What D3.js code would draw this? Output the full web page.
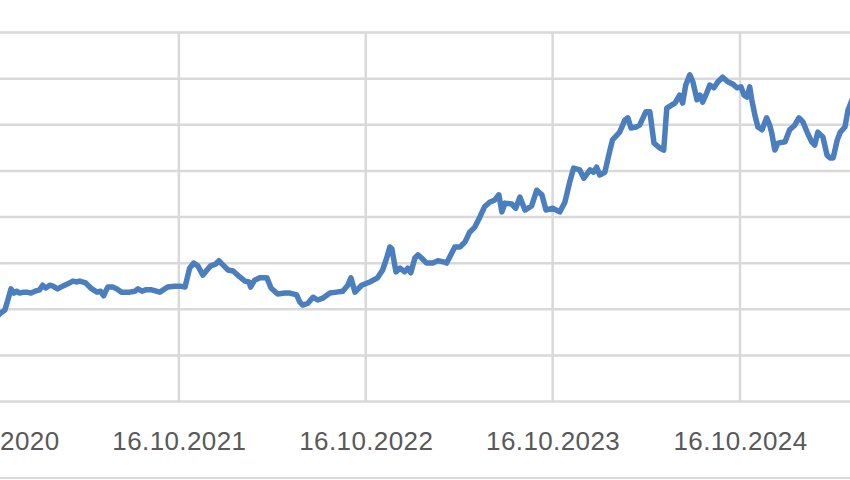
<!DOCTYPE html>
<html>
<head>
<meta charset="utf-8">
<script src="https://cdn.jsdelivr.net/npm/d3@7"></script>
<style>
  body { margin: 0; background: #fff; }
  svg { display: block; }
  .xaxis text { font-family: "Liberation Sans", Arial, sans-serif; font-size: 26px; fill: #595959; }
</style>
</head>
<body>
<div id="chart"></div>
<script>
const dates = [
  "2020-10-24","2020-10-31","2020-11-10","2020-11-16","2020-11-22","2020-11-28","2020-12-03","2020-12-09","2020-12-17","2020-12-23",
  "2020-12-31","2021-01-08","2021-01-17","2021-01-23","2021-01-29","2021-02-06","2021-02-12","2021-02-21","2021-03-03","2021-03-13",
  "2021-03-23","2021-03-31","2021-04-05","2021-04-17","2021-04-29","2021-05-09","2021-05-16","2021-05-22","2021-05-30","2021-06-09",
  "2021-06-17","2021-06-26","2021-07-12","2021-07-22","2021-07-28","2021-08-05","2021-08-12","2021-08-24","2021-09-09","2021-09-24",
  "2021-10-08","2021-10-18","2021-10-28","2021-11-06","2021-11-14","2021-11-22","2021-12-02","2021-12-10","2021-12-17","2021-12-27",
  "2022-01-02","2022-01-10","2022-01-20","2022-01-30","2022-02-12","2022-02-22","2022-03-02","2022-03-05","2022-03-13","2022-03-23",
  "2022-04-06","2022-04-14","2022-04-27","2022-05-11","2022-05-21","2022-06-03","2022-06-09","2022-06-15","2022-06-25","2022-07-05",
  "2022-07-14","2022-07-24","2022-08-07","2022-08-20","2022-09-01","2022-09-11","2022-09-17","2022-09-25","2022-10-08","2022-10-24",
  "2022-11-08","2022-11-18","2022-11-26","2022-12-02","2022-12-06","2022-12-14","2022-12-22","2022-12-31","2023-01-06","2023-01-12",
  "2023-01-20","2023-01-26","2023-02-02","2023-02-12","2023-02-24","2023-03-06","2023-03-19","2023-03-23","2023-04-02","2023-04-08",
  "2023-04-18","2023-04-28","2023-05-07","2023-05-17","2023-05-27","2023-06-05","2023-06-15","2023-06-25","2023-07-03","2023-07-09",
  "2023-07-15","2023-07-28","2023-08-05","2023-08-13","2023-08-23","2023-09-05","2023-09-15","2023-09-25","2023-10-03","2023-10-16",
  "2023-10-30","2023-11-09","2023-11-18","2023-11-26","2023-12-08","2023-12-16","2023-12-28","2024-01-04","2024-01-10","2024-01-16",
  "2024-01-26","2024-02-05","2024-02-10","2024-02-24","2024-03-05","2024-03-11","2024-03-17","2024-03-27","2024-04-03","2024-04-15",
  "2024-04-23","2024-05-01","2024-05-12","2024-05-20","2024-05-26","2024-06-05","2024-06-11","2024-06-20","2024-06-26","2024-07-02",
  "2024-07-10","2024-07-16","2024-07-24","2024-07-30","2024-08-04","2024-08-12","2024-08-18","2024-08-26","2024-09-03","2024-09-12",
  "2024-09-22","2024-10-02","2024-10-10","2024-10-18","2024-10-24","2024-10-30","2024-11-04","2024-11-08","2024-11-14","2024-11-20",
  "2024-11-28","2024-12-07","2024-12-13","2024-12-17","2024-12-23","2024-12-29","2025-01-12","2025-01-21","2025-01-31","2025-02-08",
  "2025-02-16","2025-02-24","2025-03-05","2025-03-11","2025-03-17","2025-03-27","2025-04-04","2025-04-10","2025-04-16","2025-04-24",
  "2025-04-30","2025-05-09","2025-05-15","2025-05-23","2025-05-31"
];
const prices = [
  18.0,18.9,19.7,21.9,24.3,23.4,23.8,23.4,23.6,23.6,
  23.4,23.8,24.1,25.1,24.5,25.1,24.9,24.3,24.9,25.4,
  26.0,25.8,26.0,25.6,24.3,23.6,23.8,22.8,24.7,24.7,
  24.3,23.6,23.6,23.8,24.3,23.8,24.1,24.1,23.6,24.7,
  24.9,24.9,24.7,28.8,29.9,29.3,27.3,28.4,29.3,29.7,
  30.4,29.5,28.4,28.2,26.9,26.0,25.8,24.7,26.2,26.7,
  26.7,24.5,23.2,23.4,23.4,23.0,21.5,20.8,21.2,22.5,
  21.9,22.3,23.4,23.6,23.8,25.1,26.7,23.6,25.1,25.8,
  26.7,28.4,31.0,33.4,33.0,28.0,28.8,28.0,28.8,27.8,
  31.0,31.7,31.0,29.9,29.9,30.4,30.1,29.9,32.1,33.4,
  33.4,34.5,36.6,37.7,39.9,42.1,43.1,43.6,44.7,41.0,
  42.9,42.7,41.8,44.2,41.4,42.3,45.7,44.7,41.4,41.8,
  41.0,43.1,47.3,50.5,50.1,48.3,50.1,49.6,50.7,49.0,
  49.6,54.4,56.6,58.3,60.9,61.4,59.2,59.4,59.8,62.7,
  62.7,55.9,54.9,54.4,63.5,64.2,64.6,66.3,64.6,68.5,
  70.7,69.2,65.3,66.3,64.8,66.8,68.5,67.9,69.2,70.2,
  69.2,68.7,67.9,68.1,66.3,65.9,68.1,65.3,62.0,59.4,
  58.8,61.4,59.8,58.1,54.4,55.9,56.2,58.8,59.8,61.4,
  60.5,58.3,56.2,55.5,58.3,57.2,53.3,52.7,52.7,56.6,
  58.3,59.4,63.1,65.3,67.4
];
const tickDates = ["2020-10-16","2021-10-16","2022-10-16","2023-10-16","2024-10-16"];
const yTicks = [0, 10, 20, 30, 40, 50, 60, 70, 80];

const width = 850, height = 480;
const parse = d3.utcParse("%Y-%m-%d");
const data = dates.map((d, i) => ({ date: parse(d), value: prices[i] }));

const svg = d3.select("#chart").append("svg")
  .attr("width", width)
  .attr("height", height);

// plot area: the left side of the chart is cut off in the picture
const x = d3.scaleUtc()
  .domain([parse(tickDates[0]), parse(tickDates[4])])
  .range([-8, 740]);

const y = d3.scaleLinear()
  .domain([0, 80])
  .range([401, 32]);

// chart border
svg.append("rect")
  .attr("x", -20).attr("y", -20)
  .attr("width", width + 40).attr("height", 498)
  .attr("fill", "none")
  .attr("stroke", "#d9d9d9")
  .attr("stroke-width", 2);

// horizontal gridlines
svg.append("g")
  .attr("class", "ygrid")
  .attr("transform", "translate(-40,0)")
  .call(d3.axisLeft(y).tickValues(yTicks).tickSize(-(width + 80)).tickFormat(""))
  .call(g => g.select(".domain").remove())
  .call(g => g.selectAll("line").attr("stroke", "#d9d9d9").attr("stroke-width", 2.5));

// vertical gridlines + labels
const xAxis = svg.append("g")
  .attr("class", "xaxis")
  .attr("transform", "translate(0,401)")
  .call(d3.axisBottom(x)
    .tickValues(tickDates.map(parse))
    .tickSize(0)
    .tickFormat(d3.utcFormat("%d.%m.%Y")));
xAxis.select(".domain").remove();
xAxis.selectAll("text").attr("dy", null).attr("y", 49).attr("text-anchor", "middle").attr("letter-spacing", "0.4px");

svg.append("g")
  .selectAll("line")
  .data(tickDates.map(parse))
  .join("line")
  .attr("x1", d => x(d)).attr("x2", d => x(d))
  .attr("y1", y(80)).attr("y2", y(0))
  .attr("stroke", "#d9d9d9")
  .attr("stroke-width", 2.5);

// price line
const line = d3.line()
  .x(d => x(d.date))
  .y(d => y(d.value));

svg.append("path")
  .datum(data)
  .attr("d", line)
  .attr("fill", "none")
  .attr("stroke", "#4a7ebe")
  .attr("stroke-width", 5.5)
  .attr("stroke-linejoin", "round")
  .attr("stroke-linecap", "round");
</script>
</body>
</html>
